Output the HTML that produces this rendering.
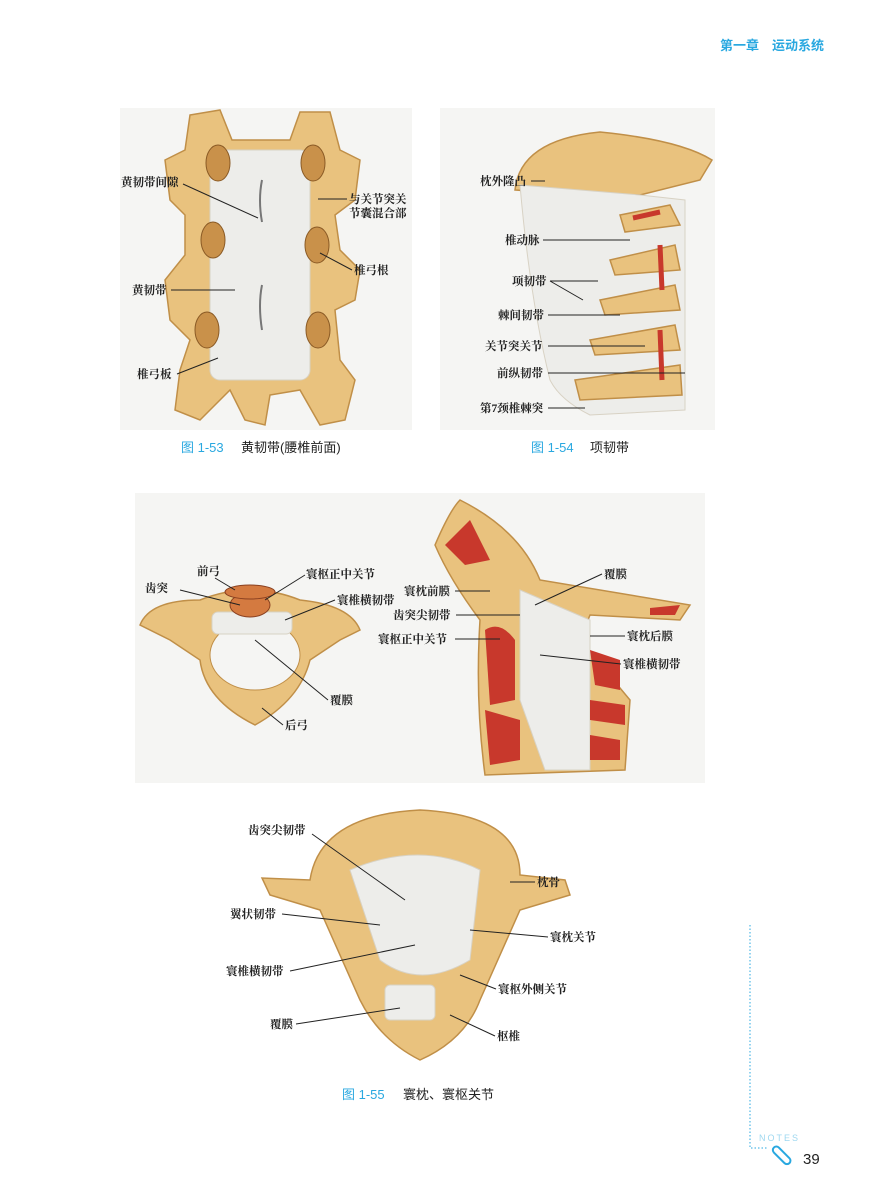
<!DOCTYPE html>
<html><head><meta charset="utf-8"><style>
body{margin:0;background:#fff;}
svg{display:block}
text{font-family:"Liberation Serif","Noto Serif CJK SC",serif;font-size:11.5px;font-weight:bold;fill:#222}
.cap{font-family:"Liberation Sans","Noto Sans CJK SC",sans-serif;font-size:13px;font-weight:normal;fill:#222}
.capn{font-family:"Liberation Sans","Noto Sans CJK SC",sans-serif;font-size:13px;fill:#29a8e0;font-weight:normal}
.l{stroke:#222;stroke-width:1;fill:none}
.bone{fill:#e9c27e;stroke:#c08f48;stroke-width:1.5}
.lig{fill:#ededea;stroke:#d8d2c4;stroke-width:1}
.red{fill:#c8382c}
</style></head><body>
<svg width="870" height="1200" viewBox="0 0 870 1200">
<text x="720" y="50" style="font-family:'Liberation Sans','Noto Sans CJK SC',sans-serif;font-size:13px;fill:#29a8e0">第一章　运动系统</text>

<!-- Fig 1-53 -->
<rect x="120" y="108" width="292" height="322" fill="#f5f5f3"/>
<path class="bone" d="M190 115 L220 110 L232 140 L290 140 L300 112 L330 112 L340 150 L360 160 L355 200 L335 215 L340 250 L360 270 L355 300 L335 310 L340 360 L355 380 L345 420 L320 425 L300 390 L270 395 L265 425 L245 420 L230 390 L200 420 L175 410 L180 370 L190 340 L170 320 L165 280 L185 255 L185 215 L170 200 L165 160 L185 150 Z"/>
<rect class="lig" x="210" y="150" width="100" height="230" rx="10"/>
<g fill="#c9914a" stroke="#8a5a25">
<ellipse cx="218" cy="163" rx="12" ry="18"/><ellipse cx="313" cy="163" rx="12" ry="18"/>
<ellipse cx="213" cy="240" rx="12" ry="18"/><ellipse cx="317" cy="245" rx="12" ry="18"/>
<ellipse cx="207" cy="330" rx="12" ry="18"/><ellipse cx="318" cy="330" rx="12" ry="18"/></g>
<path d="M262 180 Q258 200 262 222 M262 285 Q258 305 262 330" stroke="#777" stroke-width="2" fill="none"/>
<text x="121" y="186">黄韧带间隙</text><path class="l" d="M183 184 L258 218"/>
<text x="132" y="294">黄韧带</text><path class="l" d="M171 290 L235 290"/>
<text x="137" y="378">椎弓板</text><path class="l" d="M177 374 L218 358"/>
<text x="349" y="203">与关节突关</text><text x="349" y="217">节囊混合部</text><path class="l" d="M347 199 L318 199"/>
<text x="354" y="274">椎弓根</text><path class="l" d="M352 270 L320 253"/>
<text x="181" y="452" class="capn">图 1-53</text><text x="241" y="452" class="cap">黄韧带(腰椎前面)</text>

<!-- Fig 1-54 -->
<rect x="440" y="108" width="275" height="322" fill="#f5f5f3"/>
<path class="bone" d="M515 190 Q520 140 600 132 Q680 140 712 160 L700 180 L640 195 Q580 195 515 190 Z"/>
<path class="lig" d="M520 185 L640 195 L685 200 L685 410 L590 415 Q560 400 550 380 Q530 300 520 185 Z"/>
<g class="bone"><path d="M620 215 L670 205 L680 225 L625 232 Z"/><path d="M610 260 L675 245 L680 270 L615 275 Z"/><path d="M600 300 L675 285 L680 310 L605 315 Z"/><path d="M590 340 L675 325 L680 350 L595 355 Z"/><path d="M575 380 L680 365 L682 395 L580 400 Z"/></g>
<path d="M633 218 L660 212 M660 245 L662 290 M660 330 L662 380" stroke="#c8382c" stroke-width="5" fill="none"/>
<text x="480" y="185">枕外隆凸</text><path class="l" d="M531 181 L545 181"/>
<text x="505" y="244">椎动脉</text><path class="l" d="M543 240 L630 240"/>
<text x="512" y="285">项韧带</text><path class="l" d="M550 281 L598 281 M550 281 L583 300"/>
<text x="498" y="319">棘间韧带</text><path class="l" d="M548 315 L620 315"/>
<text x="485" y="350">关节突关节</text><path class="l" d="M548 346 L645 346"/>
<text x="497" y="377">前纵韧带</text><path class="l" d="M548 373 L685 373"/>
<text x="480" y="412">第7颈椎棘突</text><path class="l" d="M548 408 L585 408"/>
<text x="531" y="452" class="capn">图 1-54</text><text x="590" y="452" class="cap">项韧带</text>

<!-- Fig 1-55 top -->
<rect x="135" y="493" width="570" height="290" fill="#f5f5f3"/>
<path class="bone" d="M140 625 Q150 600 200 600 Q250 580 300 600 Q350 605 360 630 L340 640 L310 660 Q300 700 255 725 Q205 700 200 660 L170 640 Z"/>
<ellipse cx="255" cy="655" rx="45" ry="35" fill="#f5f5f3" stroke="#c08f48"/>
<rect class="lig" x="212" y="612" width="80" height="22" rx="6"/>
<ellipse cx="250" cy="605" rx="20" ry="12" fill="#d47a40" stroke="#8a4020"/>
<ellipse cx="250" cy="592" rx="25" ry="7" fill="#d47a40" stroke="#8a4020"/>
<text x="197" y="575">前弓</text><path class="l" d="M215 578 L235 590"/>
<text x="145" y="592">齿突</text><path class="l" d="M180 590 L240 605"/>
<text x="306" y="578">寰枢正中关节</text><path class="l" d="M305 575 L265 600"/>
<text x="337" y="604">寰椎横韧带</text><path class="l" d="M335 600 L285 620"/>
<text x="330" y="704">覆膜</text><path class="l" d="M328 700 L255 640"/>
<text x="285" y="729">后弓</text><path class="l" d="M283 725 L262 708"/>
<path class="bone" d="M435 545 Q450 510 460 500 Q520 530 540 580 Q600 590 690 605 L680 620 L590 615 L580 640 L630 700 L625 770 L485 775 Q475 700 480 620 Q450 580 435 545 Z"/>
<path class="lig" d="M520 590 L590 620 L590 770 L545 770 L520 700 Z"/>
<g class="red"><path d="M445 545 L470 520 L490 560 L465 565 Z"/><path d="M485 630 Q500 620 515 640 L515 700 L490 705 Z"/><path d="M485 710 L520 720 L520 760 L490 765 Z"/><path d="M590 650 L620 660 L620 690 L595 685 Z"/><path d="M590 700 L625 705 L625 725 L590 720 Z"/><path d="M590 735 L620 740 L620 760 L590 760 Z"/><path d="M650 608 L680 605 L675 615 L650 615 Z"/></g>
<text x="604" y="578">覆膜</text><path class="l" d="M602 574 L535 605"/>
<text x="404" y="595">寰枕前膜</text><path class="l" d="M455 591 L490 591"/>
<text x="393" y="619">齿突尖韧带</text><path class="l" d="M456 615 L520 615"/>
<text x="378" y="643">寰枢正中关节</text><path class="l" d="M455 639 L500 639"/>
<text x="627" y="640">寰枕后膜</text><path class="l" d="M625 636 L590 636"/>
<text x="623" y="668">寰椎横韧带</text><path class="l" d="M621 664 L540 655"/>

<!-- Fig 1-55 bottom -->
<path class="bone" d="M310 880 Q320 815 420 810 Q520 815 520 875 L565 880 L570 895 L520 910 L480 1000 Q465 1040 420 1060 Q380 1040 360 1000 L320 910 L270 895 L262 878 Z"/>
<path class="lig" d="M350 870 Q420 840 480 870 L470 960 Q420 990 380 960 Z"/>
<rect class="lig" x="385" y="985" width="50" height="35" rx="5"/>
<text x="248" y="834">齿突尖韧带</text><path class="l" d="M312 834 L405 900"/>
<text x="537" y="886">枕骨</text><path class="l" d="M535 882 L510 882"/>
<text x="230" y="918">翼状韧带</text><path class="l" d="M282 914 L380 925"/>
<text x="550" y="941">寰枕关节</text><path class="l" d="M548 937 L470 930"/>
<text x="226" y="975">寰椎横韧带</text><path class="l" d="M290 971 L415 945"/>
<text x="498" y="993">寰枢外侧关节</text><path class="l" d="M496 989 L460 975"/>
<text x="270" y="1028">覆膜</text><path class="l" d="M296 1024 L400 1008"/>
<text x="497" y="1040">枢椎</text><path class="l" d="M495 1036 L450 1015"/>
<text x="342" y="1099" class="capn">图 1-55</text><text x="403" y="1099" class="cap">寰枕、寰枢关节</text>

<path d="M750 925 L750 1148 L767 1148" stroke="#29a8e0" stroke-width="1" stroke-dasharray="1.5 2" fill="none"/>
<text x="759" y="1141" style="font-family:'Liberation Sans',sans-serif;font-size:9px;font-weight:normal;fill:#9fd8f0;letter-spacing:2px">NOTES</text>
<rect x="771" y="1152" width="22" height="7" rx="3.5" transform="rotate(45 782 1155)" fill="none" stroke="#29a8e0" stroke-width="2"/>
<text x="803" y="1164" style="font-family:'Liberation Sans',sans-serif;font-size:15px;font-weight:normal;fill:#222">39</text>
</svg>
</body></html>
